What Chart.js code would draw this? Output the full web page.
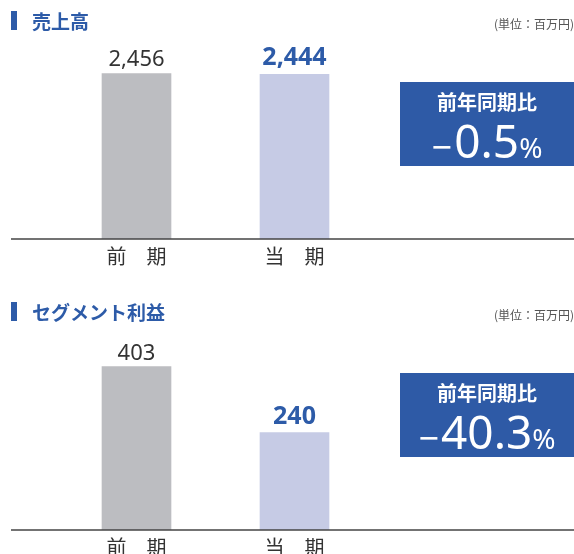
<!DOCTYPE html>
<html lang="ja">
<head>
<meta charset="utf-8">
<script src="https://cdn.jsdelivr.net/npm/chart.js"></script>
<style>
  body { margin: 0; background: #fff; width: 574px; height: 554px; overflow: hidden; position: relative;
         font-family: "Noto Sans CJK JP", "Noto Sans", sans-serif; }
  .panel { position: absolute; left: 0; width: 574px; height: 280px; }
  .panel canvas { position: absolute; left: 0; top: 0; }
  .title { position: absolute; left: 11px; top: 10px; height: 20px; display: flex; align-items: center;
           color: #2d5ba8; font-weight: bold; font-size: 19px; }
  .title::before { content: ''; display: inline-block; width: 6px; height: 19px; background: #2d5ba8; margin-right: 15px; }
  .unit { position: absolute; right: 0; top: 15px; font-size: 12px; color: #555; }
  .badge { position: absolute; left: 400px; top: 82px; width: 174px; height: 84px; background: #2e5aa6; color: #fff;
           text-align: center; }
  .badge .lbl { font-size: 20px; font-weight: bold; line-height: 20px; margin-top: 10px; }
  .badge .num { font-family: "Noto Sans", sans-serif; font-size: 46px; line-height: 44px; margin-top: 6px; }
  .badge .num small { font-size: 28px; }
  .badge .num .minus { font-size: 36px; position: relative; top: 2px; margin-right: 2px; }
</style>
</head>
<body>
<div class="panel" style="top:0">
  <canvas id="sales-chart" width="574" height="280"></canvas>
  <div class="title">売上高</div>
  <div class="unit">(単位：百万円)</div>
  <div class="badge"><div class="lbl">前年同期比</div><div class="num" id="sales-change"></div></div>
</div>
<div class="panel" style="top:291px">
  <canvas id="segment-chart" width="574" height="280"></canvas>
  <div class="title">セグメント利益</div>
  <div class="unit">(単位：百万円)</div>
  <div class="badge"><div class="lbl">前年同期比</div><div class="num" id="segment-change"></div></div>
</div>
<script>
const categories = ['前　期', '当　期'];
const salesValues = [2456, 2444];
const segmentValues = [403, 240];
const salesChange = '0.5';
const segmentChange = '40.3';

document.addEventListener('DOMContentLoaded', () => {

  // waarde boven de balk + basislijn over de hele breedte
  const labelPlugin = {
    id: 'barLabels',
    afterDatasetsDraw(chart) {
      const ctx = chart.ctx;
      const area = chart.chartArea;
      ctx.save();
      ctx.strokeStyle = '#444';
      ctx.lineWidth = 1.5;
      ctx.beginPath();
      ctx.moveTo(11, area.bottom);
      ctx.lineTo(chart.width, area.bottom);
      ctx.stroke();

      const meta = chart.getDatasetMeta(0);
      const values = chart.data.datasets[0].data;
      meta.data.forEach((bar, i) => {
        ctx.textAlign = 'center';
        ctx.textBaseline = 'alphabetic';
        if (i === 0) {
          ctx.font = '22px "Noto Sans", sans-serif';
          ctx.fillStyle = '#333';
          ctx.fillText(values[i].toLocaleString('en-US'), bar.x, bar.y - 7);
        } else {
          ctx.font = 'bold 25px "Noto Sans", sans-serif';
          ctx.fillStyle = '#2d5ba8';
          ctx.fillText(values[i].toLocaleString('en-US'), bar.x, bar.y - 9);
        }
      });
      ctx.restore();
    }
  };

  function createBarChart(canvasId, values, yMax) {
    const canvas = document.getElementById(canvasId);
    new Chart(canvas.getContext('2d'), {
      type: 'bar',
      data: {
        labels: categories,
        datasets: [{
          data: values,
          backgroundColor: ['#bcbdc1', '#c6cbe5'],
          barThickness: 69
        }]
      },
      options: {
        responsive: false,
        animation: false,
        layout: { padding: { left: 57.5, right: 200.5, top: 37.5, bottom: 7 } },
        plugins: { legend: { display: false }, tooltip: { enabled: false } },
        scales: {
          x: {
            grid: { display: false, drawTicks: false },
            border: { display: false },
            ticks: {
              padding: 5,
              color: '#333',
              font: { family: '"Noto Sans CJK JP", sans-serif', size: 20 }
            }
          },
          y: { display: false, min: 0, max: yMax }
        }
      },
      plugins: [labelPlugin]
    });
  }

  createBarChart('sales-chart', salesValues, 2990);
  createBarChart('segment-chart', segmentValues, 497);

  document.getElementById('sales-change').innerHTML = '<span class="minus">−</span>' + salesChange + '<small>%</small>';
  document.getElementById('segment-change').innerHTML = '<span class="minus">−</span>' + segmentChange + '<small>%</small>';
});
</script>
</body>
</html>
